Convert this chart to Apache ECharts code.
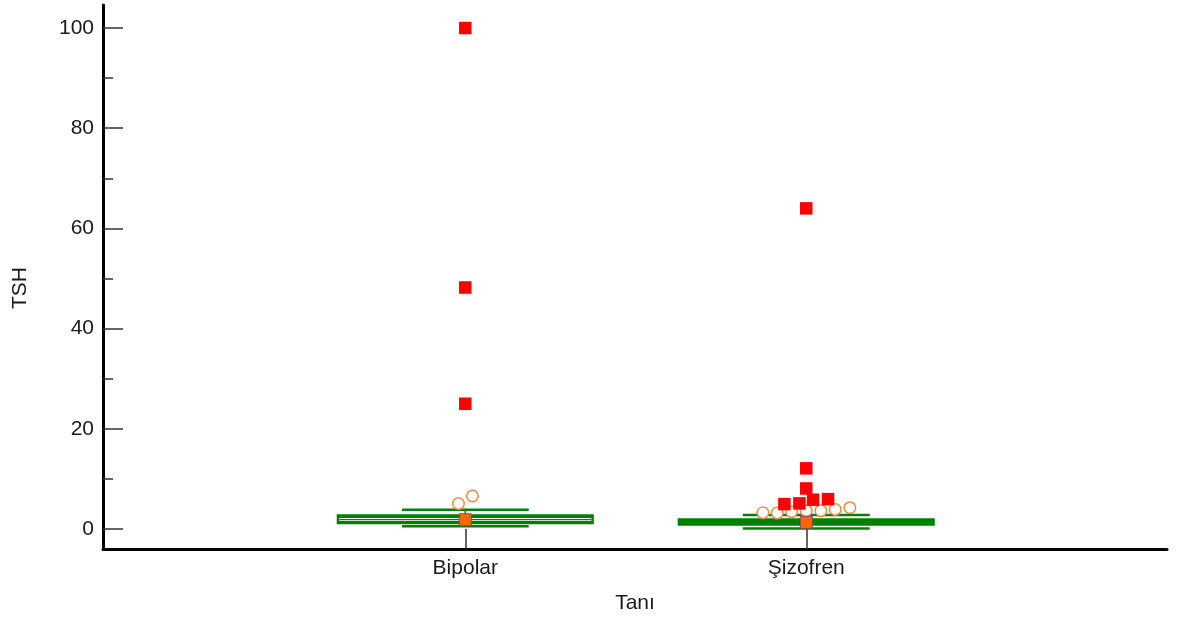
<!DOCTYPE html>
<html>
<head>
<meta charset="utf-8">
<script src="https://cdn.jsdelivr.net/npm/echarts@6/dist/echarts.min.js"></script>
<style>
html,body{margin:0;padding:0;background:#fff;}
#chart{width:1177px;height:619px;}
</style>
</head>
<body>
<div id="chart"></div>
<script>
// ---- data ----
const categories = ['Bipolar', 'Şizofren'];
const whiskerLow  = [0.55, 0.10];
const q1          = [0.95, 0.63];
const median      = [1.89, 1.30];
const q3          = [2.94, 2.15];
const whiskerHigh = [3.82, 2.80];
const means       = [1.83, 1.33];

// far-out values (red squares)
const farOutCat    = [0, 0, 0, 1, 1, 1, 1, 1, 1, 1];
const farOutValues = [100, 48.2, 25.0, 64.0, 12.1, 8.08, 5.84, 5.96, 4.96, 5.10];
const farOutJitter = [0, 0, 0, 0, 0, 0, 0.02, 0.064, -0.064, -0.02];

// outside values (open circles)
const outsideCat    = [0, 0, 1, 1, 1, 1, 1, 1, 1];
const outsideValues = [5.06, 6.59, 3.26, 3.18, 3.45, 3.65, 3.65, 3.91, 4.25];
const outsideJitter = [-0.02, 0.021, -0.127, -0.085, -0.043, 0, 0.043, 0.085, 0.128];

const yTicks      = [0, 20, 40, 60, 80, 100];
const yMinorTicks = [10, 30, 50, 70, 90];
const xTicks      = [1, 2];

// ---- build ----
const FONT = 'Liberation Sans, Arial, sans-serif';
const GREEN = '#008000';

const boxData = categories.map((c, i) => [i + 1, whiskerLow[i], q1[i], median[i], q3[i], whiskerHigh[i]]);
const meanData = means.map((m, i) => [i + 1, m]);
const farData = farOutValues.map((v, i) => [farOutCat[i] + 1 + farOutJitter[i], v]);
const outData = outsideValues.map((v, i) => [outsideCat[i] + 1 + outsideJitter[i], v]);

function renderBox(params, api) {
  const x = api.value(0);
  const pLow = api.coord([x, api.value(1)]);
  const pQ1 = api.coord([x, api.value(2)]);
  const pMed = api.coord([x, api.value(3)]);
  const pQ3 = api.coord([x, api.value(4)]);
  const pHigh = api.coord([x, api.value(5)]);
  const cx = pQ1[0];
  const hb = api.size([0.377, 0])[0];
  const hw = api.size([0.186, 0])[0];
  const children = [];
  const lineStyle = { stroke: GREEN, lineWidth: 1.5, fill: null };
  children.push({ type: 'line', shape: { x1: cx, y1: pHigh[1], x2: cx, y2: pQ3[1] }, style: lineStyle });
  children.push({ type: 'line', shape: { x1: cx, y1: pQ1[1], x2: cx, y2: pLow[1] }, style: lineStyle });
  children.push({ type: 'line', shape: { x1: cx - hw, y1: pHigh[1], x2: cx + hw, y2: pHigh[1] }, style: { stroke: GREEN, lineWidth: 2.5 } });
  children.push({ type: 'line', shape: { x1: cx - hw, y1: pLow[1], x2: cx + hw, y2: pLow[1] }, style: { stroke: GREEN, lineWidth: 2.5 } });
  const top = pQ3[1], bot = pQ1[1];
  children.push({ type: 'rect', shape: { x: cx - hb, y: top, width: 2 * hb, height: bot - top }, style: { fill: GREEN, stroke: null } });
  const insetTop = 3.8, insetBot = 3.4, insetX = 2.5;
  if (bot - top > insetTop + insetBot + 1.5) {
    children.push({ type: 'rect', shape: { x: cx - hb + insetX, y: top + insetTop, width: 2 * hb - 2 * insetX, height: bot - top - insetTop - insetBot }, style: { fill: '#ffffff', stroke: null } });
    children.push({ type: 'line', shape: { x1: cx - hb + insetX, y1: pMed[1], x2: cx + hb - insetX, y2: pMed[1] }, style: { stroke: GREEN, lineWidth: 1.2 } });
  }
  return { type: 'group', children };
}

const option = {
  animation: false,
  backgroundColor: '#ffffff',
  grid: { left: 103, right: 10, top: 5, bottom: 67, containLabel: false },
  xAxis: {
    type: 'value',
    min: -0.0625,
    max: 3.058,
    name: 'Tanı',
    nameLocation: 'middle',
    nameGap: 44,
    nameTextStyle: { fontFamily: FONT, fontSize: 21, color: '#1a1a1a' },
    axisLine: { show: true, onZero: false, lineStyle: { color: '#000', width: 3 } },
    axisTick: { show: true, inside: true, length: 20, customValues: xTicks, lineStyle: { color: '#333', width: 1.5 } },
    axisLabel: {
      show: true, margin: 9, customValues: xTicks,
      fontFamily: FONT, fontSize: 21, color: '#1a1a1a',
      formatter: v => categories[Math.round(v) - 1] || ''
    },
    splitLine: { show: false }
  },
  yAxis: [
    {
      type: 'value',
      min: -4,
      max: 104.6,
      name: 'TSH',
      nameLocation: 'middle',
      nameGap: 72,
      nameTextStyle: { fontFamily: FONT, fontSize: 21, color: '#1a1a1a', padding: [0, 22, 0, 0] },
      axisLine: { show: true, onZero: false, lineStyle: { color: '#000', width: 3 } },
      axisTick: { show: true, inside: true, length: 20, customValues: yTicks, lineStyle: { color: '#333', width: 1.5 } },
      axisLabel: { show: true, margin: 9, customValues: yTicks, fontFamily: FONT, fontSize: 21, color: '#1a1a1a' },
      splitLine: { show: false }
    },
    {
      type: 'value',
      min: -4,
      max: 104.6,
      position: 'left',
      axisLine: { show: false, onZero: false },
      axisTick: { show: true, inside: true, length: 10, customValues: yMinorTicks, lineStyle: { color: '#333', width: 1.5 } },
      axisLabel: { show: false },
      splitLine: { show: false }
    }
  ],
  series: [
    {
      type: 'custom',
      name: 'box',
      renderItem: renderBox,
      data: boxData,
      encode: { x: 0, y: [1, 2, 3, 4, 5] },
      z: 1,
      silent: true
    },
    {
      type: 'scatter',
      name: 'outside',
      data: outData,
      symbol: 'circle',
      symbolSize: 11.5,
      itemStyle: { color: '#ffffff', borderColor: '#f5883f', borderWidth: 1.5, opacity: 1 },
      z: 2
    },
    {
      type: 'scatter',
      name: 'mean',
      data: meanData,
      symbol: 'rect',
      symbolSize: 12,
      itemStyle: { color: '#ff6600', borderColor: '#8a4a55', borderWidth: 1, opacity: 1 },
      z: 3
    },
    {
      type: 'scatter',
      name: 'farout',
      data: farData,
      symbol: 'rect',
      symbolSize: 12.5,
      itemStyle: { color: '#ff0000', opacity: 1 },
      z: 4
    }
  ]
};

const chart = echarts.init(document.getElementById('chart'), null, { renderer: 'canvas' });
chart.setOption(option);
</script>
</body>
</html>
